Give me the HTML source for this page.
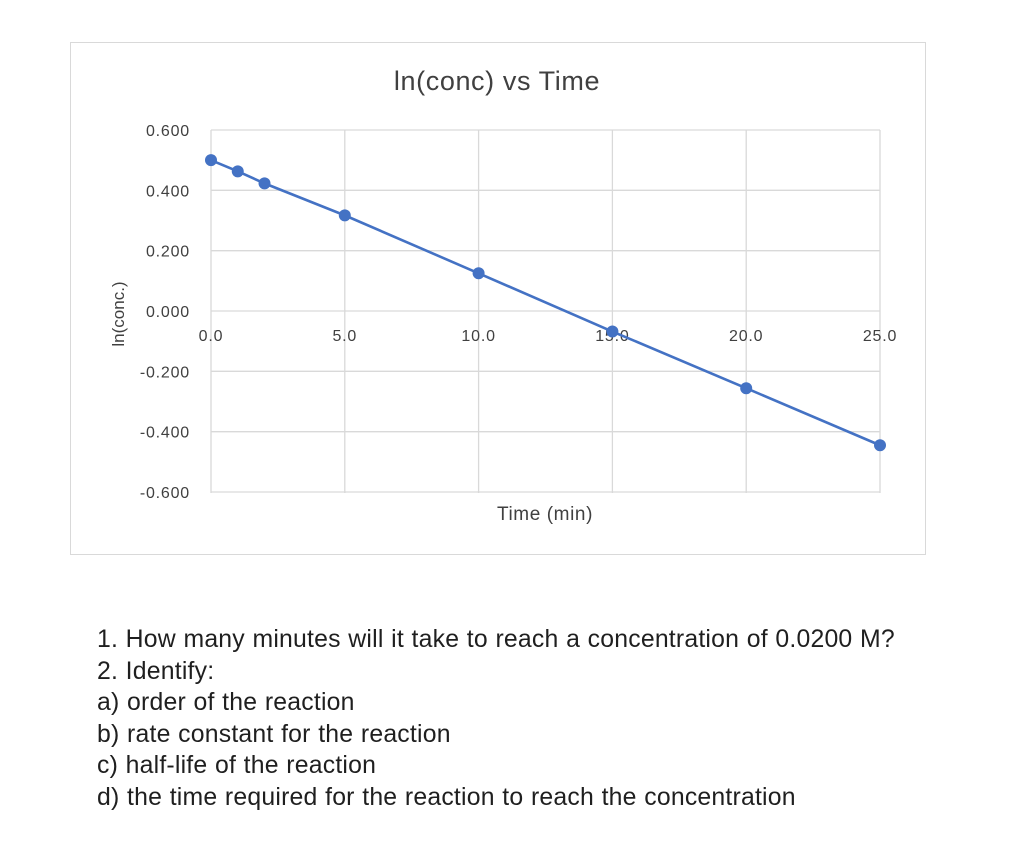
<!DOCTYPE html>
<html><head><meta charset="utf-8"><style>
body{margin:0;background:#fff;width:1024px;height:866px;overflow:hidden;font-family:"Liberation Sans",sans-serif}
.q{position:absolute;left:97px;font-size:24.8px;letter-spacing:0.2px;word-spacing:0.5px;color:#1f1f1f;line-height:31.5px;white-space:nowrap}
</style></head><body>
<svg width="1024" height="580" style="position:absolute;left:0;top:0">
<rect x="70.5" y="42.5" width="855" height="512" fill="#fff" stroke="#d9d9d9"/>
<text x="497" y="90" text-anchor="middle" font-size="27" letter-spacing="0.6" fill="#404040">ln(conc) vs Time</text>
<g id="grid"></g><g id="yt"></g><g id="xt"></g><g id="series"></g>
<text x="545" y="520" text-anchor="middle" font-size="19" letter-spacing="0.6" fill="#404040">Time (min)</text>
<text transform="translate(124,314) rotate(-90)" text-anchor="middle" font-size="17" fill="#404040">ln(conc.)</text>
</svg>
<div class="q" style="top:624px">1. How many minutes will it take to reach a concentration of 0.0200 M?<br>2. Identify:<br>a) order of the reaction<br>b) rate constant for the reaction<br>c) half-life of the reaction<br>d) the time required for the reaction to reach the concentration</div>
<script>
const times=[0,1,2,5,10,15,20,25];
const lnConc=[0.500,0.463,0.423,0.317,0.125,-0.068,-0.256,-0.445];
const xTicks=[0,5,10,15,20,25];
const yTicks=[0.6,0.4,0.2,0,-0.2,-0.4,-0.6];
const X=v=>211+(v-0)*(880-211)/25;
const Y=v=>311-v*(311-130)/0.6;
const NS="http://www.w3.org/2000/svg";
function mk(t,a,p){const e=document.createElementNS(NS,t);for(const k in a)e.setAttribute(k,a[k]);p.appendChild(e);return e;}
const g=document.getElementById('grid'),yt=document.getElementById('yt'),xt=document.getElementById('xt'),s=document.getElementById('series');
yTicks.forEach(v=>{const l=mk('line',{x1:211,x2:880,y1:Y(v),y2:Y(v),stroke:'#d9d9d9','stroke-width':1.3},g);


const t=mk('text',{x:190,y:Y(v)+6,'text-anchor':'end','font-size':16,'letter-spacing':0.8,fill:'#404040'},yt);t.textContent=v.toFixed(3);

});
xTicks.forEach(v=>{const l=mk('line',{x1:X(v),x2:X(v),y1:130,y2:493,stroke:'#d9d9d9','stroke-width':1.3},g);


const t=mk('text',{x:X(v),y:Y(0)+30,'text-anchor':'middle','font-size':16,'letter-spacing':0.8,fill:'#404040'},xt);t.textContent=v.toFixed(1);

});
const pl=mk('polyline',{points:times.map((t,i)=>X(t)+','+Y(lnConc[i])).join(' '),fill:'none',stroke:'#4472c4','stroke-width':2.6},s);


times.forEach((t,i)=>{const c=mk('circle',{cx:X(t),cy:Y(lnConc[i]),r:6,fill:'#4472c4'},s);

});
</script>
</body></html>
